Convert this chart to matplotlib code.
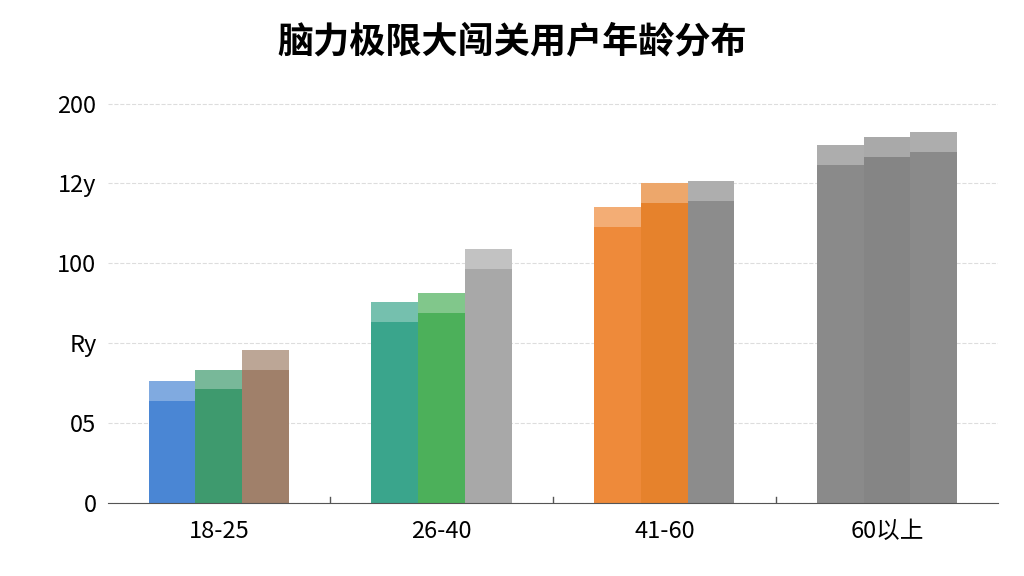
import matplotlib.pyplot as plt
import numpy as np

plt.rcParams['font.family'] = ['Noto Sans CJK SC', 'DejaVu Sans']

groups = ['18-25', '26-40', '41-60', '60以上']
series_a = [1.52, 2.52, 3.70, 4.48]
series_b = [1.67, 2.63, 4.01, 4.58]
series_c = [1.91, 3.18, 4.03, 4.65]
colors_a = ['#4a86d4', '#3aa58c', '#ee8a3a', '#8a8a8a']
colors_b = ['#3e9a6e', '#4cb05a', '#e6822c', '#858585']
colors_c = ['#a0806a', '#a8a8a8', '#8c8c8c', '#8a8a8a']
ytick_vals = [0, 1, 2, 3, 4, 5]
ytick_labels = ['0', '05', 'Rу', '100', '12у', '200']

fig = plt.figure(figsize=(10.24, 5.76), dpi=100)
ax = fig.add_axes([0.105, 0.127, 0.87, 0.70])
x = np.arange(len(groups))
w = 0.21
for off, vals, cols in [(-w, series_a, colors_a), (0, series_b, colors_b), (w, series_c, colors_c)]:
    bars = ax.bar(x + off, vals, w, color=cols, zorder=2)
    # lighter cap on top of each bar
    ax.bar(x + off, [0.25] * len(vals), w, bottom=np.array(vals) - 0.25,
           color='white', alpha=0.3, zorder=3)

ax.set_xlim(-0.5, 3.5)
ax.set_ylim(0, 5.05)
ax.set_xticks(x)
ax.set_xticklabels(groups, fontsize=17)
ax.set_yticks(ytick_vals)
ax.set_yticklabels(ytick_labels, fontsize=17)
for xb in [0.5, 1.5, 2.5]:
    ax.axvline(xb, ymax=0.015, color='#555555', lw=1)
ax.tick_params(axis='x', length=0, pad=12)
ax.tick_params(axis='y', length=0, pad=8)
ax.grid(axis='y', linestyle='--', color='#dddddd', zorder=0)
for s in ['top', 'right', 'left']:
    ax.spines[s].set_visible(False)
ax.spines['bottom'].set_color('#555555')
fig.suptitle('脑力极限大闯关用户年龄分布', fontsize=26, fontweight='bold', y=0.96)
fig.savefig('out.png')
